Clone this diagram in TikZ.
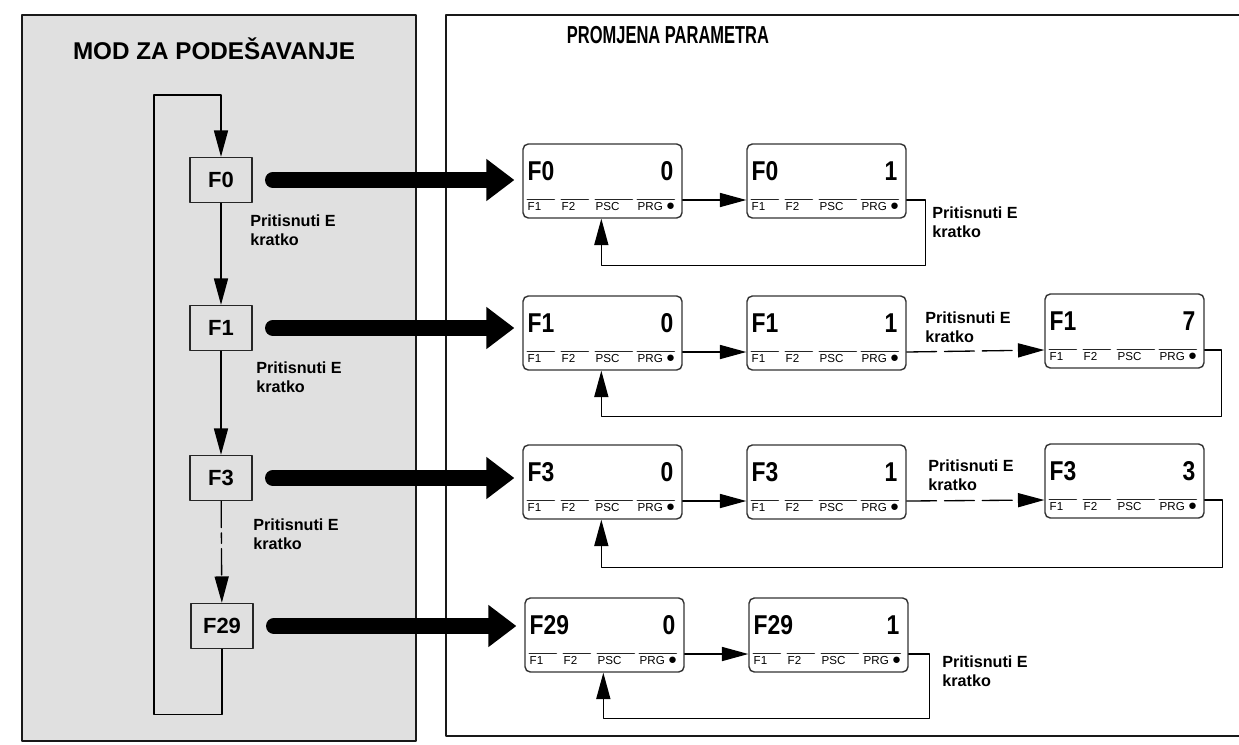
\documentclass[tikz,border=0pt]{standalone}
\usepackage{fontspec}
\setmainfont{Liberation Sans}
\newfontfamily\narrowfont[FakeStretch=0.67]{Liberation Sans}
\newfontfamily\lcdfont[FakeStretch=0.84]{Liberation Sans}
\usetikzlibrary{arrows.meta,calc}

\tikzset{
  lcdbox/.style={draw=black!80, line width=0.8pt, rounded corners=3pt, minimum width=3.18cm, minimum height=1.48cm, inner sep=0pt},
  lcdbig/.style={font=\lcdfont\bfseries\fontsize{15.5}{16}\selectfont, inner sep=0pt},
  lcdsmall/.style={font=\fontsize{6.6}{7}\selectfont, anchor=west, inner sep=0pt},
  lcdline/.style={line width=0.8pt, draw=black!85},
  fbox/.style={draw=black!85, line width=0.8pt, minimum width=1.24cm, minimum height=0.9cm, inner sep=0pt, font=\bfseries\fontsize{12.5}{14}\selectfont},
  note/.style={align=left, anchor=west, inner sep=0pt, font=\bfseries\fontsize{9.2}{10.8}\selectfont},
  flow/.style={line width=0.75pt, ->},
  bigarrow/.style={line width=9pt, -{Triangle[length=16pt,width=23pt]}, shorten <=11.5pt, shorten >=4.5pt},
  skip/.style={dash pattern=on 17pt off 4.5pt},
  skipdot/.style={dash pattern=on 15pt off 3pt on 6pt off 3pt}
}

% display: name, centre, parameter, value
\newcommand{\lcd}[4]{%
  \node[lcdbox] (#1) at (#2) {};
  \node[lcdbig, anchor=west] (#1-name) at ($(#1.north west)+(5,28)$) {#3};
  \node[lcdbig, anchor=east] (#1-val) at ($(#1.north east)+(-9,28)$) {#4};
  \draw[lcdline] ($(#1.north west)+(5,56)$) -- ++(27,0);
  \draw[lcdline] ($(#1.north west)+(39,56)$) -- ++(27,0);
  \draw[lcdline] ($(#1.north west)+(73,56)$) -- ++(37,0);
  \draw[lcdline] ($(#1.north west)+(115,56)$) -- ++(37,0);
  \node[lcdsmall] (#1-k1) at ($(#1.north west)+(5,63)$) {F1};
  \node[lcdsmall] (#1-k2) at ($(#1.north west)+(39,63)$) {F2};
  \node[lcdsmall] (#1-k3) at ($(#1.north west)+(73,63)$) {PSC};
  \node[lcdsmall] (#1-k4) at ($(#1.north west)+(115,63)$) {PRG {\fontsize{8.5}{8}\selectfont ●}};
  \coordinate (#1-in) at ($(#1.west)+(0,19)$);
  \coordinate (#1-out) at ($(#1.east)+(0,19)$);
  \coordinate (#1-ret) at ($(#1.south west)+(79,0)$);
}

\begin{document}
\begin{tikzpicture}[line cap=round,line join=round,>={Triangle[length=15pt,width=8pt]},x=0.02cm,y=-0.02cm]
        \useasboundingbox (0,0) rectangle (1239,744);

        \fill [fill=black!12, draw=black!90, line width=1.4pt] (22,15) rectangle (416,741);
        \fill [fill=white, draw=black!90, line width=1.4pt] (446,15) rectangle (1250,736);
        \node[font=\bfseries\fontsize{13.8}{15}\selectfont] (tmod) at (214,49) {MOD ZA PODEŠAVANJE};
        \node[font=\narrowfont\bfseries\fontsize{14}{15}\selectfont] (tpar) at (668,35) {PROMJENA PARAMETRA};

        \node[fbox] (f0) at (221,180) {F0};
        \node[fbox] (f1) at (221,328) {F1};
        \node[fbox] (f3) at (221,478) {F3};
        \node[fbox] (f29) at (222,626) {F29};
        \draw[flow] (f0) -- (f1);
        \draw[flow] (f1) -- (f3);
        \draw[flow, skipdot] (f3) -- (f29);
        \draw[flow] (f29.south) -- ++(0,65) -| (154,95) -| (f0.north);
        \node[note] (n0) at (250,230) {Pritisnuti E\\kratko};
        \node[note] (n1) at (256,377) {Pritisnuti E\\kratko};
        \node[note] (n3) at (253,534) {Pritisnuti E\\kratko};

        \lcd{p0a}{602.5,181}{F0}{0}
        \lcd{p0b}{826.5,181}{F0}{1}
        \lcd{p1a}{602.5,333}{F1}{0}
        \lcd{p1b}{826.5,333}{F1}{1}
        \lcd{p1c}{1124.5,331}{F1}{7}
        \lcd{p3a}{602.5,482}{F3}{0}
        \lcd{p3b}{826.5,482}{F3}{1}
        \lcd{p3c}{1124.5,481}{F3}{3}
        \lcd{p29a}{604.5,635}{F29}{0}
        \lcd{p29b}{828.5,635}{F29}{1}

        \draw[bigarrow] (f0) -- (f0 -| p0a.west);
        \draw[bigarrow] (f1) -- (f1 -| p1a.west);
        \draw[bigarrow] (f3) -- (f3 -| p3a.west);
        \draw[bigarrow] (f29) -- (f29 -| p29a.west);

        \draw[flow] (p0a-out) -- (p0b-in);
        \draw[flow] (p0b-out) -- ++(19,0) |- ($(p0a-ret)+(0,47)$) -- (p0a-ret);
        \node[note] (n0r) at (932,222) {Pritisnuti E\\kratko};

        \draw[flow] (p1a-out) -- (p1b-in);
        \draw[flow, skip] (p1b-out) -- (p1c-in);
        \draw[flow] (p1c-out) -- ++(17,0) |- ($(p1a-ret)+(0,46)$) -- (p1a-ret);
        \node[note] (n1r) at (925,327) {Pritisnuti E\\kratko};

        \draw[flow] (p3a-out) -- (p3b-in);
        \draw[flow, skip] (p3b-out) -- (p3c-in);
        \draw[flow] (p3c-out) -- ++(18,0) |- ($(p3a-ret)+(0,48)$) -- (p3a-ret);
        \node[note] (n3r) at (928,475) {Pritisnuti E\\kratko};

        \draw[flow] (p29a-out) -- (p29b-in);
        \draw[flow] (p29b-out) -- ++(21,0) |- ($(p29a-ret)+(0,46)$) -- (p29a-ret);
        \node[note] (n29r) at (942,671) {Pritisnuti E\\kratko};
\end{tikzpicture}
\end{document}
